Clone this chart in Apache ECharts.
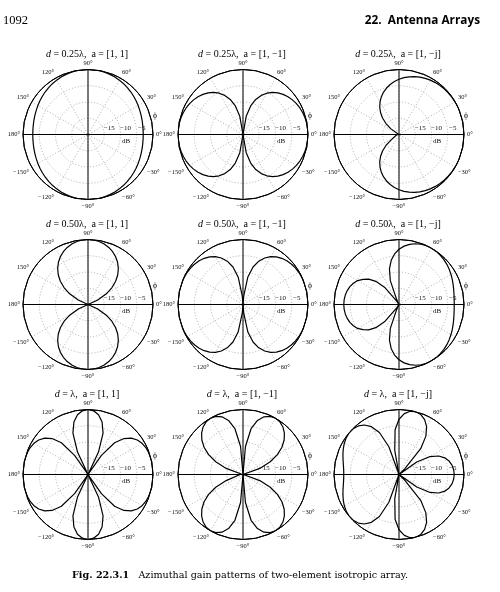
<!DOCTYPE html>
<html><head><meta charset="utf-8">
<script src="https://cdn.jsdelivr.net/npm/echarts@6/dist/echarts.min.js"></script>
<style>html,body{margin:0;padding:0;background:#fff}#c{width:500px;height:592px}</style>
</head><body><div id="c"></div><script>
// azimuth angles (deg)
const angles = [0,5,10,15,20,25,30,35,40,45,50,55,60,65,70,75,80,85,90,95,100,105,110,115,120,125,130,135,140,145,150,155,160,165,170,175,180,185,190,195,200,205,210,215,220,225,230,235,240,245,250,255,260,265,270,275,280,285,290,295,300,305,310,315,320,325,330,335,340,345,350,355,360];
// plot titles
const spacingLabels = ['0.25λ', '0.50λ', 'λ'];
const weightLabels = ['1, 1', '1, −1', '1, −j'];
// tick labels
const angleTickLabels = ['0°','30°','60°','90°','120°','150°','180°','−150°','−120°','−90°','−60°','−30°'];
const radiusTickLabels = {'-15': '−15', '-10': '−10', '-5': '−5'};
// normalized gain in dB (clipped at -20)
const gain_025_sum = [-3.01,-2.98,-2.91,-2.78,-2.62,-2.42,-2.19,-1.94,-1.68,-1.41,-1.16,-0.91,-0.69,-0.49,-0.32,-0.18,-0.08,-0.02,0,-0.02,-0.08,-0.18,-0.32,-0.49,-0.69,-0.91,-1.16,-1.41,-1.68,-1.94,-2.19,-2.42,-2.62,-2.78,-2.91,-2.98,-3.01,-2.98,-2.91,-2.78,-2.62,-2.42,-2.19,-1.94,-1.68,-1.41,-1.16,-0.91,-0.69,-0.49,-0.32,-0.18,-0.08,-0.02,0,-0.02,-0.08,-0.18,-0.32,-0.49,-0.69,-0.91,-1.16,-1.41,-1.68,-1.94,-2.19,-2.42,-2.62,-2.78,-2.91,-2.98,-3.01];
const gain_025_diff = [0,-0.03,-0.1,-0.24,-0.43,-0.69,-1.02,-1.43,-1.93,-2.55,-3.3,-4.21,-5.33,-6.73,-8.51,-10.89,-14.32,-20,-20,-20,-14.32,-10.89,-8.51,-6.73,-5.33,-4.21,-3.3,-2.55,-1.93,-1.43,-1.02,-0.69,-0.43,-0.24,-0.1,-0.03,0,-0.03,-0.1,-0.24,-0.43,-0.69,-1.02,-1.43,-1.93,-2.55,-3.3,-4.21,-5.33,-6.73,-8.51,-10.89,-14.32,-20,-20,-20,-14.32,-10.89,-8.51,-6.73,-5.33,-4.21,-3.3,-2.55,-1.93,-1.43,-1.02,-0.69,-0.43,-0.24,-0.1,-0.03,0];
const gain_025_quad = [0,0,0,0,-0.01,-0.02,-0.05,-0.09,-0.15,-0.23,-0.35,-0.5,-0.69,-0.93,-1.22,-1.56,-1.97,-2.45,-3.01,-3.65,-4.37,-5.2,-6.12,-7.17,-8.34,-9.66,-11.15,-12.84,-14.76,-16.98,-19.57,-20,-20,-20,-20,-20,-20,-20,-20,-20,-20,-20,-19.57,-16.98,-14.76,-12.84,-11.15,-9.66,-8.34,-7.17,-6.12,-5.2,-4.37,-3.65,-3.01,-2.45,-1.97,-1.56,-1.22,-0.93,-0.69,-0.5,-0.35,-0.23,-0.15,-0.09,-0.05,-0.02,-0.01,0,0,0,0];
const gain_050_sum = [-20,-20,-20,-20,-20,-16.68,-13.6,-11.05,-8.89,-7.05,-5.48,-4.14,-3.01,-2.07,-1.32,-0.74,-0.33,-0.08,0,-0.08,-0.33,-0.74,-1.32,-2.07,-3.01,-4.14,-5.48,-7.05,-8.89,-11.05,-13.6,-16.68,-20,-20,-20,-20,-20,-20,-20,-20,-20,-16.68,-13.6,-11.05,-8.89,-7.05,-5.48,-4.14,-3.01,-2.07,-1.32,-0.74,-0.33,-0.08,0,-0.08,-0.33,-0.74,-1.32,-2.07,-3.01,-4.14,-5.48,-7.05,-8.89,-11.05,-13.6,-16.68,-20,-20,-20,-20,-20];
const gain_050_diff = [0,0,0,-0.01,-0.04,-0.09,-0.19,-0.36,-0.6,-0.95,-1.45,-2.11,-3.01,-4.21,-5.82,-8.06,-11.39,-17.3,-20,-17.3,-11.39,-8.06,-5.82,-4.21,-3.01,-2.11,-1.45,-0.95,-0.6,-0.36,-0.19,-0.09,-0.04,-0.01,0,0,0,0,0,-0.01,-0.04,-0.09,-0.19,-0.36,-0.6,-0.95,-1.45,-2.11,-3.01,-4.21,-5.82,-8.06,-11.39,-17.3,-20,-17.3,-11.39,-8.06,-5.82,-4.21,-3.01,-2.11,-1.45,-0.95,-0.6,-0.36,-0.19,-0.09,-0.04,-0.01,0,0,0];
const gain_050_quad = [-3.01,-2.96,-2.81,-2.57,-2.26,-1.9,-1.52,-1.14,-0.78,-0.47,-0.22,-0.06,0,-0.06,-0.27,-0.64,-1.2,-1.97,-3.01,-4.38,-6.19,-8.64,-12.19,-18.33,-20,-18.76,-13.06,-9.91,-7.83,-6.53,-5.29,-4.5,-3.92,-3.5,-3.22,-3.06,-3.01,-3.06,-3.22,-3.5,-3.92,-4.5,-5.29,-6.53,-7.83,-9.91,-13.06,-18.76,-20,-18.33,-12.19,-8.64,-6.19,-4.38,-3.01,-1.97,-1.2,-0.64,-0.27,-0.06,0,-0.06,-0.22,-0.47,-0.78,-1.14,-1.52,-1.9,-2.26,-2.57,-2.81,-2.96,-3.01];
const gain_100_sum = [0,0,-0.01,-0.05,-0.16,-0.38,-0.79,-1.48,-2.59,-4.35,-7.26,-12.8,-20,-12.37,-6.44,-3.26,-1.36,-0.33,0,-0.33,-1.36,-3.26,-6.44,-12.37,-20,-12.8,-7.26,-4.35,-2.59,-1.48,-0.79,-0.38,-0.16,-0.05,-0.01,0,0,0,-0.01,-0.05,-0.16,-0.38,-0.79,-1.48,-2.59,-4.35,-7.26,-12.8,-20,-12.37,-6.44,-3.26,-1.36,-0.33,0,-0.33,-1.36,-3.26,-6.44,-12.37,-20,-12.8,-7.26,-4.35,-2.59,-1.48,-0.79,-0.38,-0.16,-0.05,-0.01,0,0];
const gain_100_diff = [-20,-20,-20,-19.43,-14.5,-10.75,-7.77,-5.38,-3.47,-1.99,-0.9,-0.23,0,-0.26,-1.12,-2.78,-5.7,-11.36,-20,-11.36,-5.7,-2.78,-1.12,-0.26,0,-0.23,-0.9,-1.99,-3.47,-5.38,-7.77,-10.75,-14.5,-19.43,-20,-20,-20,-20,-20,-19.43,-14.5,-10.75,-7.77,-5.38,-3.47,-1.99,-0.9,-0.23,0,-0.26,-1.12,-2.78,-5.7,-11.36,-20,-11.36,-5.7,-2.78,-1.12,-0.26,0,-0.23,-0.9,-1.99,-3.47,-5.38,-7.77,-10.75,-14.5,-19.43,-20,-20,-20];
const gain_100_quad = [-3.01,-3.12,-3.45,-4.05,-5.02,-6.53,-8.96,-13.33,-20,-17.44,-9.62,-5.58,-3.01,-1.35,-0.37,0,-0.25,-1.19,-3.01,-6.2,-12.48,-20,-10.9,-5.74,-3.01,-1.41,-0.5,-0.08,-0.01,-0.21,-0.59,-1.09,-1.64,-2.17,-2.62,-2.91,-3.01,-2.91,-2.62,-2.17,-1.64,-1.09,-0.59,-0.21,-0.01,-0.08,-0.5,-1.41,-3.01,-5.74,-10.9,-20,-12.48,-6.2,-3.01,-1.19,-0.25,0,-0.37,-1.35,-3.01,-5.58,-9.62,-17.44,-20,-13.33,-8.96,-6.53,-5.02,-4.05,-3.45,-3.12,-3.01];

const gains = [
  [gain_025_sum, gain_025_diff, gain_025_quad],
  [gain_050_sum, gain_050_diff, gain_050_quad],
  [gain_100_sum, gain_100_diff, gain_100_quad]
];

const CX = [88, 243, 399];
const CY = [134.5, 304.5, 474.5];
const R = 65;
const SERIF = 'Liberation Serif';
const grid = {color: '#9a9a9a', width: 0.8, type: [1, 2]};

const polar = [], angleAxis = [], radiusAxis = [], series = [], graphic = [];

for (let r = 0; r < 3; r++) {
  for (let c = 0; c < 3; c++) {
    const idx = r * 3 + c;
    const cx = CX[c], cy = CY[r];
    polar.push({center: [cx, cy], radius: R});
    polar.push({center: [cx, cy], radius: R});
    angleAxis.push({
      polarIndex: 2 * idx, type: 'value', min: 0, max: 360, interval: 30,
      startAngle: 0, clockwise: false, z: 1,
      axisLine: {show: true, lineStyle: {color: '#000', width: 1}},
      axisTick: {show: false},
      axisLabel: {show: true, margin: 3, fontSize: 6.5, fontFamily: SERIF, color: '#111',
        formatter: v => angleTickLabels[Math.round(v / 30)] || ''},
      splitLine: {show: true, lineStyle: grid}
    });
    angleAxis.push({
      polarIndex: 2 * idx + 1, type: 'value', min: 0, max: 360, interval: 90,
      startAngle: 0, clockwise: false, z: 3,
      axisLine: {show: true, lineStyle: {color: '#000', width: 1}},
      axisTick: {show: false}, axisLabel: {show: false},
      splitLine: {show: true, lineStyle: {color: '#000', width: 1}}
    });
    radiusAxis.push({
      polarIndex: 2 * idx, type: 'value', min: -20, max: 0, interval: 5, z: 1,
      axisLine: {show: false}, axisTick: {show: false},
      axisLabel: {show: true, margin: 3, fontSize: 7, fontFamily: SERIF, color: '#111',
        padding: [0, 0, 0, 10], formatter: v => radiusTickLabels[v] || ''},
      splitLine: {show: true, lineStyle: grid},
      name: 'dB', nameLocation: 'middle', nameGap: 3,
      nameTextStyle: {fontSize: 7, fontFamily: SERIF, color: '#111', padding: [0, 0, 0, 11]}
    });
    radiusAxis.push({polarIndex: 2 * idx + 1, type: 'value', min: -20, max: 0, show: false});
    const vals = gains[r][c];
    series.push({
      type: 'line', coordinateSystem: 'polar', polarIndex: 2 * idx,
      data: angles.map((a, k) => [vals[k], a]),
      symbol: 'none', showSymbol: false, silent: true, z: 5, clip: false,
      lineStyle: {color: '#000', width: 1.2}
    });
    graphic.push({
      type: 'text', x: cx - 1, y: cy - 80.5,
      style: {text: '{it|d} = ' + spacingLabels[r] + ',  a = [' + weightLabels[c] + ']',
        fontFamily: SERIF, fontSize: 10, fill: '#000', align: 'center', verticalAlign: 'middle',
        rich: {it: {fontStyle: 'italic', fontFamily: SERIF, fontSize: 10, fill: '#000'}}}
    });
    graphic.push({
      type: 'text', x: cx + 67, y: cy - 18,
      style: {text: 'ϕ', fontFamily: SERIF, fontSize: 7.5, fill: '#000', align: 'center', verticalAlign: 'middle'}
    });
  }
}

graphic.push({type: 'text', x: 3, y: 21, style: {text: '1092', fontFamily: SERIF, fontSize: 12.5, fill: '#000', align: 'left', verticalAlign: 'middle'}});
graphic.push({type: 'text', x: 480, y: 21, style: {text: '22.  Antenna Arrays', fontFamily: 'Open Sans', fontWeight: 'bold', fontSize: 11.8, fill: '#000', align: 'right', verticalAlign: 'middle'}});
graphic.push({type: 'text', x: 240, y: 575, style: {
  text: '{b|Fig. 22.3.1}   Azimuthal gain patterns of two-element isotropic array.',
  fontFamily: 'DejaVu Serif', fontSize: 9.6, fill: '#000', align: 'center', verticalAlign: 'middle',
  rich: {b: {fontWeight: 'bold', fontFamily: 'DejaVu Serif', fontSize: 9.6, fill: '#000'}}}});

const chart = echarts.init(document.getElementById('c'));
chart.setOption({
  backgroundColor: '#fff',
  animation: false,
  polar, angleAxis, radiusAxis, series, graphic
});
</script></body></html>
